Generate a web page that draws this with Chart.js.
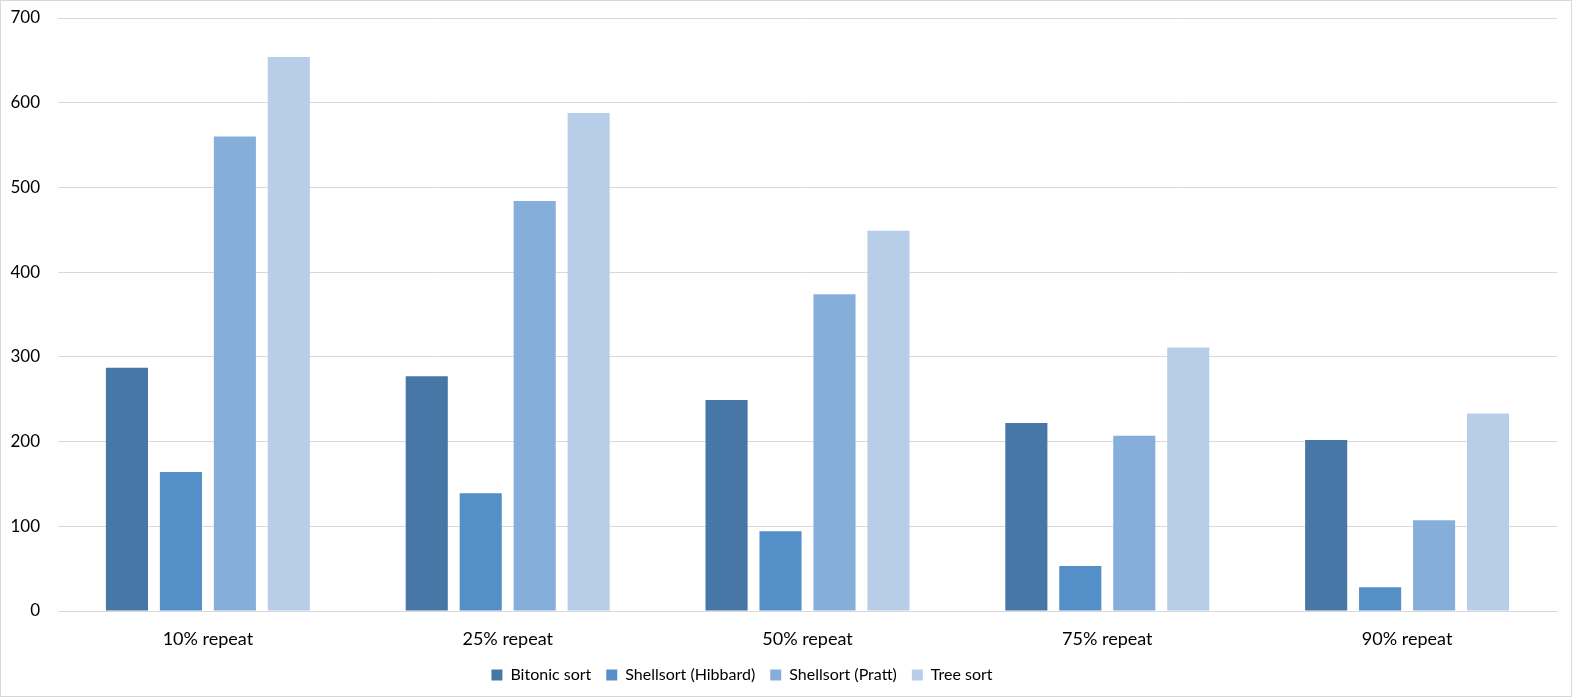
<!DOCTYPE html>
<html>
<head>
<meta charset="utf-8">
<script src="https://cdn.jsdelivr.net/npm/chart.js@4.4.1/dist/chart.umd.min.js"></script>
<style>
  html, body { margin: 0; padding: 0; background: #fff; }
  #wrap { width: 1572px; height: 697px; box-sizing: border-box; border: 1px solid #d9d9d9; position: relative; }
  canvas { display: block; }
</style>
</head>
<body>
<div id="wrap"><canvas id="c" width="1570" height="695"></canvas></div>
<script>
const categories = ["10% repeat", "25% repeat", "50% repeat", "75% repeat", "90% repeat"];
const bitonicSort = [287, 277, 249, 222, 202];
const shellsortHibbard = [164, 139, 94, 53, 28];
const shellsortPratt = [560, 484, 374, 207, 107];
const treeSort = [654, 588, 449, 311, 233];
const yTicks = [0, 100, 200, 300, 400, 500, 600, 700];

const FONT = "Lato, 'Open Sans', sans-serif";
Chart.defaults.font.family = FONT;
Chart.defaults.font.size = 17;
Chart.defaults.color = "#000";

const common = { categoryPercentage: 0.72, barPercentage: 0.78, borderWidth: 0 };

const legendShift = {
  id: "legendShift",
  afterLayout(chart) {
    const lg = chart.legend;
    if (lg) { lg.left -= 37; lg.right -= 37; }
  }
};

new Chart(document.getElementById("c"), {
  type: "bar",
  data: {
    labels: categories,
    datasets: [
      { label: "Bitonic sort", data: bitonicSort, backgroundColor: "#4677A7", ...common },
      { label: "Shellsort (Hibbard)", data: shellsortHibbard, backgroundColor: "#548FC7", ...common },
      { label: "Shellsort (Pratt)", data: shellsortPratt, backgroundColor: "#86AEDB", ...common },
      { label: "Tree sort", data: treeSort, backgroundColor: "#B8CDE8", ...common }
    ]
  },
  plugins: [legendShift],
  options: {
    responsive: false,
    animation: false,
    layout: { padding: { left: 0, right: 14, top: 17, bottom: 3 } },
    plugins: {
      tooltip: { enabled: false },
      legend: {
        position: "bottom",
        labels: { boxWidth: 11, boxHeight: 11, padding: 15, font: { size: 16, family: FONT }, color: "#000" }
      }
    },
    scales: {
      x: {
        grid: { display: false, drawTicks: false },
        border: { display: true, color: "#d9d9d9" },
        afterFit: (axis) => { axis.height = 41; },
        ticks: { padding: 17, font: { size: 18, family: FONT } }
      },
      y: {
        min: 0, max: 700,
        afterBuildTicks: (axis) => { axis.ticks = yTicks.map(v => ({ value: v })); },
        afterFit: (axis) => { axis.width = 57; axis.paddingTop = 0; axis.paddingBottom = 0; },
        grid: { color: "#d9d9d9", drawTicks: false, lineWidth: 1 },
        border: { display: false },
        ticks: { padding: 18, font: { size: 17, family: FONT } }
      }
    }
  }
});
</script>
</body>
</html>
